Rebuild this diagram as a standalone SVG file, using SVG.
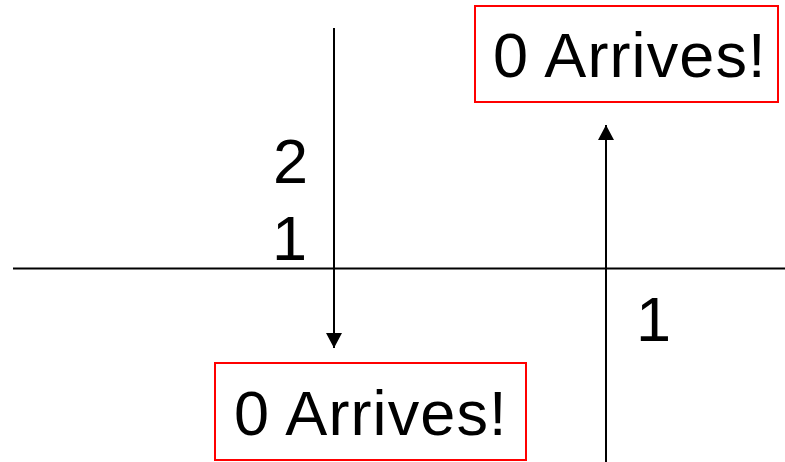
<svg xmlns="http://www.w3.org/2000/svg" width="785" height="462" viewBox="0 0 785 462">
  <style>
    .axis { stroke: #000; stroke-width: 2; fill: none; }
    .box { fill: #fff; stroke: #ff0000; stroke-width: 2; }
    .lbl { font-family: "Liberation Sans", Arial, sans-serif; font-size: 63px; fill: #000; }
    .msg { letter-spacing: 1.1px; }
  </style>
  <defs>
    <marker id="arrow" viewBox="0 0 15 16" refX="15" refY="8" markerWidth="15" markerHeight="16" markerUnits="userSpaceOnUse" orient="auto">
      <path d="M0,0 L15,8 L0,16 Z" fill="#000"/>
    </marker>
  </defs>

  <g id="connectors">
    <line class="axis" x1="13" y1="268.5" x2="785" y2="268.5"/>
    <line class="axis" x1="334" y1="28" x2="334" y2="348" marker-end="url(#arrow)"/>
    <line class="axis" x1="606" y1="462" x2="606" y2="125" marker-end="url(#arrow)"/>
  </g>

  <g id="label-2">
    <text class="lbl" x="273" y="183">2</text>
  </g>
  <g id="label-1-left">
    <text class="lbl" x="272" y="260">1</text>
  </g>
  <g id="label-1-right">
    <text class="lbl" x="636" y="341">1</text>
  </g>

  <g id="arrival-top">
    <rect class="box" x="475" y="6" width="303" height="96"/>
    <text class="lbl msg" x="493" y="77">0 Arrives!</text>
  </g>
  <g id="arrival-bottom">
    <rect class="box" x="215" y="363" width="311" height="97"/>
    <text class="lbl msg" x="234" y="435">0 Arrives!</text>
  </g>
</svg>
